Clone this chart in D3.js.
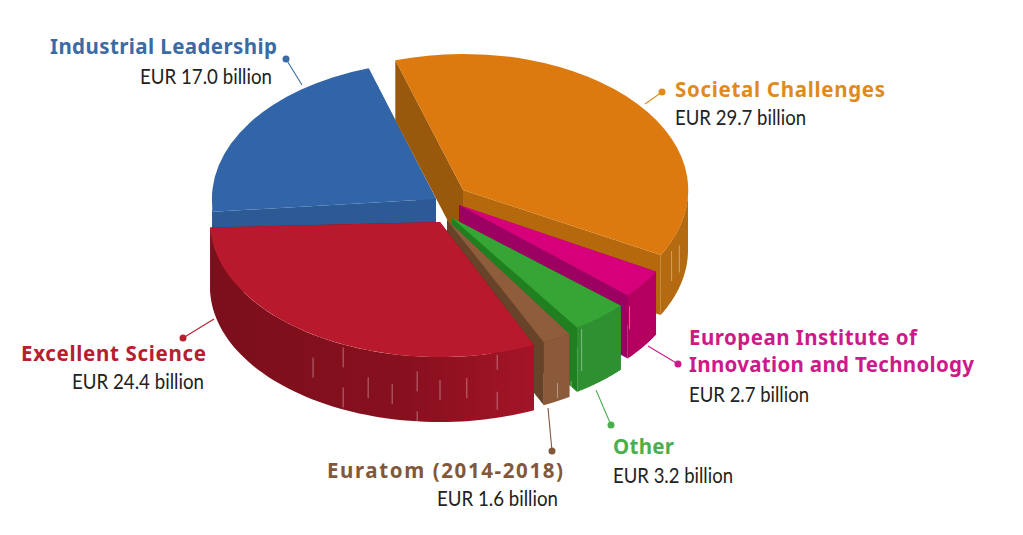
<!DOCTYPE html>
<html>
<head>
<meta charset="utf-8">
<script src="https://cdn.jsdelivr.net/npm/d3@7"></script>
<style>
  html, body { margin: 0; padding: 0; background: #fff; }
  svg { display: block; }
  .head { font-family: "Noto Sans", sans-serif; font-weight: 700; font-size: 20.5px; }
  .amount { font-family: "Lato", sans-serif; font-size: 20.5px; fill: #222; }
</style>
</head>
<body>
<div id="chart"></div>
<script>
// values in EUR billion, in clockwise order from the far side of the pie
var categories = ["Societal Challenges", "European Institute of Innovation and Technology", "Other", "Euratom (2014-2018)", "Excellent Science", "Industrial Leadership"];
var values = [29.7, 2.7, 3.2, 1.6, 24.4, 17.0];

var topColors = ["#dc7a10", "#d6007a", "#37a535", "#8f5d3b", "#b9192c", "#3165a8"];
var cutColors = ["#99590c", "#9c0060", "#20801f", "#664329", "#7f0f1c", "#2b5a94"];
var endCutColors = ["#b5690c", "#9c0060", "#20801f", "#664329", "#7f0f1c", "#2b5a94"];
var wallColors = ["#b46a10", "#b4005e", "#2f9032", "#8a5a3a", "url(#redWall)", "#2b5a94"];
var textColors = ["#e08a1e", "#cc1a8a", "#4cae4f", "#82583a", "#b5202e", "#3b6ba5"];

// where each wedge was pulled to: apex, radii, thickness, small turn in degrees
var apexX = [463, 459, 452, 447, 440, 436];
var apexY = [190, 205, 218, 220, 222, 199];
var radiusX = [225, 226, 226, 228, 230, 224];
var radiusY = [136, 136, 132, 135, 135, 137];
var depth = [60, 63, 64, 63, 65, 40];
var turn = [0, 0.8, 0.8, 2, 3, 0];

// label lines, anchor, baselines, leader line
var labelLines = [["Societal Challenges"], ["European Institute of", "Innovation and Technology"], ["Other"], ["Euratom (2014-2018)"], ["Excellent Science"], ["Industrial Leadership"]];
var labelWidths = [[210], [228, 285], [61], [236], [185], [227]];
var amountWidths = [131, 120, 120, 121, 132, 132];
var labelX = [675, 689, 613, 563, 206, 277];
var amountX = [675, 689, 613, 558, 204, 272];
var labelY = [97, 345, 454, 478, 361, 54];
var amountY = [125, 402, 483, 506, 389, 84];
var labelAnchor = ["start", "start", "start", "end", "end", "end"];
var leaders = [
  [[662, 92], [645, 104]],
  [[678, 364], [648, 346]],
  [[611, 425], [596, 390]],
  [[552, 451], [548, 408]],
  [[183, 338], [214, 319]],
  [[286, 59], [302, 85]]
];

// pale scratches on the walls: slice, angle in degrees, from and to below the rim
var seams = [
  [4, 213.5, 23, 43], [4, 204.9, 3, 23], [4, 204.9, 43, 63], [4, 198.2, 27, 48],
  [4, 192, 30, 50], [4, 185.7, 15, 35], [4, 185.7, 55, 65], [4, 180, 23, 43],
  [4, 173.3, 22, 42], [4, 165.6, 2, 17], [4, 165.6, 39, 57],
  [0, 112, 10, 40], [0, 106, 18, 45], [1, 131, 12, 35], [2, 145, 3, 45],
  [3, 151, 45, 60], [3, 147, 48, 60]
];

var width = 1023, height = 535;
var startAngle = -17.5 * Math.PI / 180;

var svg = d3.select("#chart").append("svg")
  .attr("width", width)
  .attr("height", height);

var redWall = svg.append("defs").append("linearGradient")
  .attr("id", "redWall")
  .attr("gradientUnits", "userSpaceOnUse")
  .attr("x1", 210).attr("x2", 532)
  .attr("y1", 0).attr("y2", 0);
redWall.append("stop").attr("offset", 0).attr("stop-color", "#7b0f1b");
redWall.append("stop").attr("offset", 0.6).attr("stop-color", "#87101e");
redWall.append("stop").attr("offset", 1).attr("stop-color", "#a31428");

var pie = d3.pie().sort(null)
  .startAngle(startAngle)
  .endAngle(startAngle + 2 * Math.PI);
var arcs = pie(values).map(function (d, i) {
  var t = turn[i] * Math.PI / 180;
  return { startAngle: d.startAngle + t, endAngle: d.endAngle + t };
});
var arcTop = d3.arc().innerRadius(0).outerRadius(1);
var line = d3.line();

function rimPoint(i, angle, drop) {
  return [apexX[i] + radiusX[i] * Math.sin(angle), apexY[i] - radiusY[i] * Math.cos(angle) + drop];
}

// radial cut face going down from the top
function cutFace(i, angle) {
  var a = [apexX[i], apexY[i]];
  return line([a, rimPoint(i, angle, 0), rimPoint(i, angle, depth[i]), [a[0], a[1] + depth[i]]]) + "Z";
}

// outer wall, only the part of the rim that faces the viewer
function outerWall(i, d) {
  var lo = Math.max(d.startAngle, Math.PI / 2);
  var hi = Math.min(d.endAngle, 3 * Math.PI / 2);
  var angles = d3.range(0, 61).map(function (k) {
    return lo + (hi - lo) * k / 60;
  });
  var up = angles.map(function (a) { return rimPoint(i, a, 0); });
  var down = angles.map(function (a) { return rimPoint(i, a, depth[i]); }).reverse();
  return line(up.concat(down)) + "Z";
}

// painter's order: far wedges first, red last
var drawOrder = [5, 0, 1, 2, 3, 4];

drawOrder.forEach(function (i) {
  var d = arcs[i];
  var g = svg.append("g").attr("class", "slice");
  g.append("path").attr("d", cutFace(i, d.startAngle)).attr("fill", cutColors[i]);
  g.append("path").attr("d", cutFace(i, d.endAngle)).attr("fill", endCutColors[i]);
  g.append("path").attr("d", outerWall(i, d)).attr("fill", wallColors[i]);
  g.append("path")
    .attr("d", arcTop(d))
    .attr("transform", "translate(" + apexX[i] + "," + apexY[i] + ") scale(" + radiusX[i] + "," + radiusY[i] + ")")
    .attr("fill", topColors[i]);
  seams.filter(function (s) { return s[0] === i; }).forEach(function (s) {
    var a = s[1] * Math.PI / 180;
    g.append("path")
      .attr("d", line([rimPoint(i, a, s[2]), rimPoint(i, a, s[3])]))
      .attr("stroke", "#fff")
      .attr("stroke-opacity", 0.4)
      .attr("stroke-width", 1);
  });
});

categories.forEach(function (name, i) {
  var g = svg.append("g").attr("class", "label");
  g.append("path")
    .attr("d", line(leaders[i]))
    .attr("stroke", textColors[i])
    .attr("stroke-width", 1.1)
    .attr("fill", "none");
  g.append("circle")
    .attr("cx", leaders[i][0][0])
    .attr("cy", leaders[i][0][1])
    .attr("r", 3.5)
    .attr("fill", textColors[i]);
  labelLines[i].forEach(function (t, k) {
    g.append("text")
      .attr("class", "head")
      .attr("x", labelX[i])
      .attr("y", labelY[i] + k * 27)
      .attr("text-anchor", labelAnchor[i])
      .attr("textLength", labelWidths[i][k])
      .attr("lengthAdjust", "spacing")
      .attr("fill", textColors[i])
      .text(t);
  });
  g.append("text")
    .attr("class", "amount")
    .attr("x", amountX[i])
    .attr("y", amountY[i])
    .attr("text-anchor", labelAnchor[i])
    .attr("textLength", amountWidths[i])
    .attr("lengthAdjust", "spacingAndGlyphs")
    .text("EUR " + values[i].toFixed(1) + " billion");
});
</script>
</body>
</html>
